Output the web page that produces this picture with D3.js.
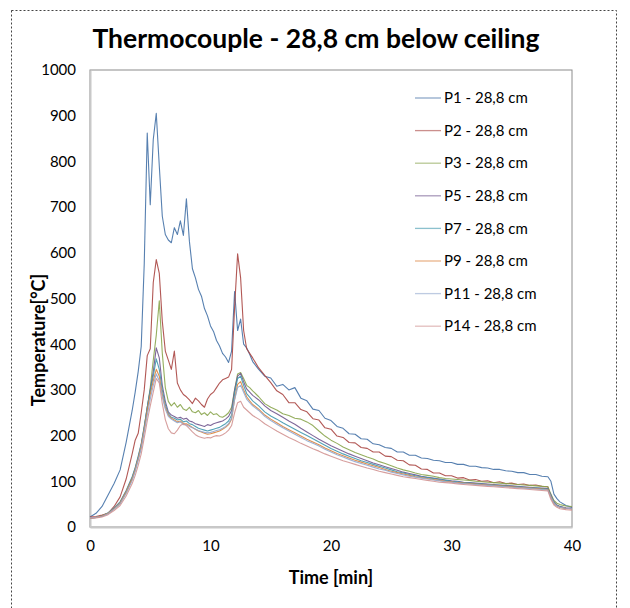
<!DOCTYPE html>
<html>
<head>
<meta charset="utf-8">
<script src="https://cdn.jsdelivr.net/npm/d3@7"></script>
<style>
  body { margin: 0; background: #fff; }
  text { font-family: Lato, "Open Sans", sans-serif; fill: #000; }
</style>
</head>
<body>
<div id="chart"></div>
<script>
// ---------------- data ----------------
const minutes = [
  0, 0.5, 1, 1.5, 2, 2.5, 3, 3.5,
  3.75, 4, 4.25, 4.5, 4.75, 5, 5.25, 5.5, 5.75, 6,
  6.25, 6.5, 6.75, 7, 7.25, 7.5, 7.75, 8, 8.25, 8.5,
  8.75, 9, 9.25, 9.5, 9.75, 10, 10.25, 10.5, 10.75, 11,
  11.25, 11.5, 11.75, 12, 12.25, 12.5, 12.75, 13, 13.25, 13.5,
  14, 14.5, 15, 15.5, 16, 16.5, 17, 17.5, 18, 18.5, 19, 19.5, 20, 20.5, 21, 21.5, 22, 22.5, 23, 23.5, 24, 24.5,
  25, 25.5, 26, 26.5, 27, 27.5, 28, 28.5, 29, 29.5, 30, 30.5, 31, 31.5, 32, 32.5, 33, 33.5, 34, 34.5, 35, 35.5,
  36, 36.5, 37, 37.5, 38,
  38.25, 38.5, 38.75, 39, 39.5, 40
];

const seriesNames = [
  "P1 - 28,8 cm", "P2 - 28,8 cm", "P3 - 28,8 cm", "P5 - 28,8 cm",
  "P7 - 28,8 cm", "P9 - 28,8 cm", "P11 - 28,8 cm", "P14 - 28,8 cm"
];

const p1 = [
  22, 30, 45, 70, 95, 125, 185, 255,
  295, 340, 395, 575, 862, 705, 848, 905, 790, 680,
  640, 628, 622, 655, 640, 670, 638, 718, 625, 565,
  545, 520, 505, 478, 462, 440, 428, 408, 396, 380,
  372, 360, 385, 515, 430, 455, 400, 392, 378, 362,
  345, 330, 326, 308, 312, 300, 305, 282, 276, 258, 255, 238, 233, 220, 216, 204, 203, 193, 192, 182, 180, 174,
  172, 164, 164, 157, 157, 151, 150, 146, 145, 141, 141, 137, 137, 133, 133, 130, 129, 126, 126, 123, 122, 119,
  119, 115, 115, 111, 110,
  100, 72, 62, 55, 47, 43
];
const p2 = [
  22, 23, 26, 30, 45, 66, 105, 160,
  190, 205, 250, 300, 375, 390, 535, 585, 555, 450,
  385, 365, 345, 385, 315, 300, 290, 285, 278, 270,
  282, 276, 268, 262, 280, 290, 295, 305, 315, 322,
  325, 328, 345, 480, 598, 545, 430, 390, 380, 370,
  348, 332, 316, 298, 290, 272, 272, 257, 252, 237, 234, 217, 214, 199, 196, 185, 184, 174, 172, 164, 164, 155,
  154, 146, 145, 136, 135, 127, 126, 118, 118, 112, 112, 107, 108, 103, 104, 100, 101, 97, 99, 95, 96, 93,
  94, 91, 92, 89, 88,
  65, 52, 47, 44, 41, 40
];
const p3 = [
  20, 21, 24, 30, 40, 52, 75, 105,
  125, 150, 175, 215, 260, 305, 365, 420, 495, 380,
  305, 275, 265, 272, 262, 268, 258, 255, 262, 252,
  250, 255, 246, 250, 244, 252, 246, 248, 242, 240,
  244, 250, 262, 300, 335, 338, 325, 310, 305, 298,
  285, 270, 262, 256, 248, 244, 238, 236, 230, 222, 210, 199, 190, 183, 175, 169, 163, 158, 153, 149, 143, 139,
  134, 129, 125, 122, 118, 115, 113, 111, 108, 106, 105, 104, 103, 102, 100, 99, 98, 97, 96, 95, 94, 93,
  92, 91, 90, 89, 88,
  72, 58, 52, 49, 46, 45
];
const p5 = [
  20, 21, 24, 30, 41, 54, 78, 108,
  128, 152, 180, 218, 262, 300, 340, 392, 370, 310,
  275, 252, 245, 242, 238, 240, 236, 238, 232, 230,
  226, 224, 222, 220, 224, 222, 226, 228, 230, 232,
  236, 242, 255, 300, 330, 336, 318, 302, 295, 288,
  278, 265, 255, 248, 240, 232, 225, 216, 208, 200, 192, 185, 178, 172, 166, 160, 155, 150, 145, 140, 136, 132,
  128, 124, 120, 117, 114, 111, 109, 107, 105, 103, 101, 100, 98, 97, 96, 95, 94, 93, 92, 91, 90, 89,
  88, 87, 86, 85, 84,
  70, 55, 48, 45, 42, 41
];
const p7 = [
  20, 21, 24, 31, 42, 55, 80, 110,
  130, 155, 182, 220, 262, 298, 330, 368, 345, 300,
  268, 248, 240, 238, 234, 236, 230, 232, 226, 224,
  220, 216, 214, 212, 210, 212, 214, 216, 218, 222,
  226, 232, 245, 292, 325, 330, 310, 292, 284, 276,
  265, 252, 243, 236, 228, 221, 214, 207, 200, 193, 186, 179, 172, 166, 160, 155, 150, 145, 141, 137, 133, 129,
  125, 121, 118, 115, 112, 110, 108, 106, 104, 102, 100, 99, 97, 96, 95, 94, 93, 92, 91, 90, 89, 88,
  87, 86, 85, 84, 83,
  68, 54, 47, 44, 41, 40
];
const p9 = [
  20, 21, 24, 30, 40, 53, 77, 106,
  126, 150, 178, 215, 255, 290, 320, 345, 330, 290,
  262, 245, 238, 234, 230, 232, 226, 226, 222, 218,
  214, 210, 208, 205, 203, 204, 206, 208, 210, 214,
  218, 224, 236, 280, 312, 318, 300, 285, 276, 268,
  258, 245, 236, 228, 220, 213, 206, 199, 192, 186, 180, 173, 167, 161, 156, 151, 146, 142, 138, 134, 130, 126,
  122, 119, 116, 113, 110, 108, 106, 104, 102, 100, 99, 97, 96, 95, 94, 93, 92, 91, 90, 89, 88, 87,
  86, 85, 84, 83, 82,
  66, 52, 46, 43, 41, 40
];
const p11 = [
  20, 21, 23, 29, 39, 51, 74, 102,
  122, 146, 172, 208, 245, 280, 310, 335, 320, 285,
  258, 242, 236, 232, 228, 230, 224, 224, 220, 217,
  214, 211, 209, 207, 206, 207, 209, 211, 213, 216,
  220, 226, 238, 278, 305, 310, 295, 280, 272, 265,
  255, 242, 233, 225, 217, 210, 203, 196, 189, 183, 177, 170, 164, 158, 153, 148, 143, 139, 135, 131, 127, 124,
  120, 117, 114, 111, 109, 107, 105, 103, 101, 99, 98, 96, 95, 94, 93, 92, 91, 90, 89, 88, 87, 86,
  85, 84, 83, 82, 81,
  65, 52, 46, 43, 41, 40
];
const p14 = [
  19, 20, 22, 27, 36, 47, 68, 95,
  113, 135, 160, 195, 232, 265, 295, 325, 315, 270,
  235, 215, 206, 204, 212, 222, 226, 222, 215, 208,
  202, 198, 196, 194, 196, 195, 198, 200, 199, 202,
  206, 212, 222, 250, 272, 275, 262, 256, 250, 244,
  236, 226, 218, 210, 203, 196, 190, 183, 177, 171, 166, 160, 155, 150, 145, 141, 137, 133, 129, 126, 122, 119,
  116, 113, 110, 108, 106, 104, 102, 100, 98, 97, 96, 94, 93, 92, 91, 90, 89, 88, 87, 86, 85, 84,
  83, 82, 81, 80, 79,
  60, 48, 43, 40, 38, 37
];

const seriesValues = [p1, p2, p3, p5, p7, p9, p11, p14];
const colors = ["#4572A7", "#AA4643", "#89A54E", "#71588F", "#4198AF", "#DB843D", "#93A9CF", "#D19392"];

const xTicks = [0, 10, 20, 30, 40];
const yTicks = [0, 100, 200, 300, 400, 500, 600, 700, 800, 900, 1000];

// ---------------- init ----------------
const width = 630, height = 608;
const margin = { top: 70, right: 58, bottom: 81, left: 90 };

const svg = d3.select("#chart").append("svg")
  .attr("width", width)
  .attr("height", height);

// dashed frame
svg.append("rect")
  .attr("x", 11.5).attr("y", 10.5)
  .attr("width", 605).attr("height", 620)
  .attr("fill", "none")
  .attr("stroke", "#444")
  .attr("stroke-width", 1)
  .attr("stroke-dasharray", "2,2");

const x = d3.scaleLinear().domain([0, 40]).range([margin.left, width - margin.right]);
const y = d3.scaleLinear().domain([0, 1000]).range([height - margin.bottom, margin.top]);

// plot area border
svg.append("rect")
  .attr("x", x(0)).attr("y", y(1000))
  .attr("width", x(40) - x(0)).attr("height", y(0) - y(1000))
  .attr("fill", "none")
  .attr("stroke", "#8c8c8c")
  .attr("stroke-width", 1);

// axes (labels only, Excel style)
const xAxis = svg.append("g")
  .attr("transform", `translate(0,${y(0)})`)
  .call(d3.axisBottom(x).tickValues(xTicks).tickSize(0).tickPadding(13));
const yAxis = svg.append("g")
  .attr("transform", `translate(${x(0)},0)`)
  .call(d3.axisLeft(y).tickValues(yTicks).tickFormat(d3.format("d")).tickSize(0).tickPadding(14));

[xAxis, yAxis].forEach(a => {
  a.select(".domain").attr("stroke", "#c8c8c8").attr("stroke-width", 2);
  a.selectAll("text").style("font-family", "Lato, sans-serif").style("font-size", "15px").attr("fill", "#000");
});

// lines
const line = d3.line()
  .x((d, i) => x(minutes[i]))
  .y(d => y(d));

svg.append("g")
  .selectAll("path")
  .data(seriesValues)
  .join("path")
  .attr("d", line)
  .attr("fill", "none")
  .attr("stroke", (d, i) => colors[i])
  .attr("stroke-width", 1.1)
  .attr("stroke-linejoin", "round")
  .attr("opacity", 0.9);

// legend
const legend = svg.append("g").attr("transform", "translate(415,98)");
const items = legend.selectAll("g")
  .data(seriesNames)
  .join("g")
  .attr("transform", (d, i) => `translate(0,${i * 32.6})`);
items.append("line")
  .attr("x1", 0).attr("x2", 26)
  .attr("stroke", (d, i) => colors[i])
  .attr("stroke-width", 1.3)
  .attr("opacity", 0.6);
items.append("text")
  .attr("x", 29).attr("dy", "0.35em")
  .style("font-size", "15px")
  .text(d => d);

// titles
svg.append("text")
  .attr("x", 316).attr("y", 48)
  .attr("text-anchor", "middle")
  .style("font-size", "26.5px").style("font-weight", "bold")
  .text("Thermocouple - 28,8 cm below ceiling");

svg.append("text")
  .attr("x", x(20)).attr("y", 584)
  .attr("text-anchor", "middle")
  .style("font-size", "18px").style("font-weight", "bold")
  .text("Time [min]");

svg.append("text")
  .attr("transform", `translate(45,340) rotate(-90)`)
  .attr("text-anchor", "middle")
  .style("font-size", "18px").style("font-weight", "bold")
  .text("Temperature[°C]");
</script>
</body>
</html>
